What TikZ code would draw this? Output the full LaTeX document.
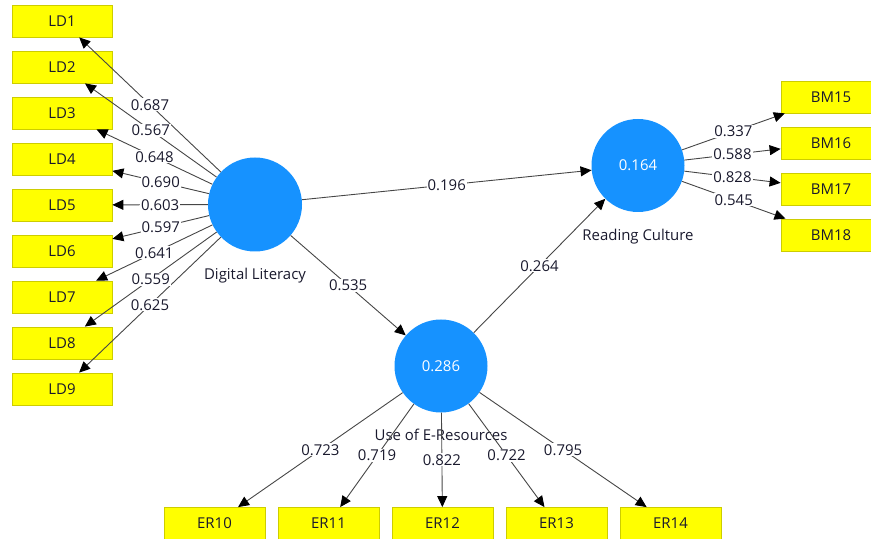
\documentclass[tikz,border=0pt]{standalone}
\usepackage{fontspec}
\setmainfont{Open Sans}
\usetikzlibrary{arrows.meta}
\definecolor{boxfill}{RGB}{255,255,0}
\definecolor{boxline}{RGB}{205,205,0}
\definecolor{lvfill}{RGB}{22,146,255}
\definecolor{edge}{RGB}{70,70,70}
\definecolor{txt}{RGB}{25,25,45}
\begin{document}
\begin{tikzpicture}[x=1bp,y=-1bp,
  ind/.style={draw=boxline, fill=boxfill, minimum width=100bp, minimum height=32bp,
    inner sep=0pt, text=txt, line width=0.8bp, font=\fontsize{15}{17}\selectfont},
  lv/.style={circle, fill=lvfill, minimum size=94bp, inner sep=0pt, text=white,
    font=\fontsize{15}{17}\selectfont},
  arr/.style={draw=edge, line width=0.9bp, -{Triangle[length=11bp,width=10bp,color=black]}},
  coef/.style={fill=white, inner sep=1bp, text=txt, font=\fontsize{15}{17}\selectfont},
  lvname/.style={text=txt, inner sep=0pt, font=\fontsize{15}{17}\selectfont}]
\useasboundingbox (0,0) rectangle (871,539);
\clip (0,0) rectangle (871,539);
% indicator boxes
\foreach \i in {1,...,9}
  \node[ind] (ld\i) at (62,{21+46*(\i-1)}) {LD\i};
\foreach \k/\n in {0/15,1/16,2/17,3/18}
  \node[ind] (bm\n) at (831,{97+46*\k}) {BM\n};
\foreach \k/\n in {0/10,1/11,2/12,3/13,4/14}
  \node[ind, minimum width=101bp] (er\n) at ({214.5+114*\k},523.5) {ER\n};
% latent variables
\node[lv] (dl) at (255,204.5) {};
\node[lv, minimum size=93bp] (rc) at (638,165.5) {0.164};
\node[lv, minimum size=93bp] (er) at (441,366) {0.286};
\node[lvname] (dlname) at (255,276) {Digital Literacy};
\node[lvname] (rcname) at (638,237) {Reading Culture};
\node[lvname] (ername) at (441,435) {Use of E-Resources};
% arrows
\foreach \i in {1,...,9}
  \draw[arr] (dl) -- (ld\i);
\foreach \n in {15,16,17,18}
  \draw[arr] (rc) -- (bm\n);
\foreach \n in {10,11,12,13,14}
  \draw[arr] (er) -- (er\n);
\draw[arr] (dl) -- (rc);
\draw[arr] (dl) -- (er);
\draw[arr] (er) -- (rc);
% coefficients
\foreach \i/\v in {1/0.687,2/0.567,3/0.648,4/0.690,5/0.603,6/0.597,7/0.641,8/0.559,9/0.625}
  \path (dl) -- (ld\i) node[coef, pos=0.5] {\v};
\foreach \n/\v in {15/0.337,16/0.588,17/0.828,18/0.545}
  \path (rc) -- (bm\n) node[coef, pos=0.5] {\v};
\foreach \n/\v in {10/0.723,11/0.719,12/0.822,13/0.722,14/0.795}
  \path (er) -- (er\n) node[coef, pos=0.5] {\v};
\path (dl) -- (rc) node[coef, pos=0.5] {0.196};
\path (dl) -- (er) node[coef, pos=0.5] {0.535};
\path (er) -- (rc) node[coef, pos=0.5] {0.264};
\end{tikzpicture}
\end{document}
